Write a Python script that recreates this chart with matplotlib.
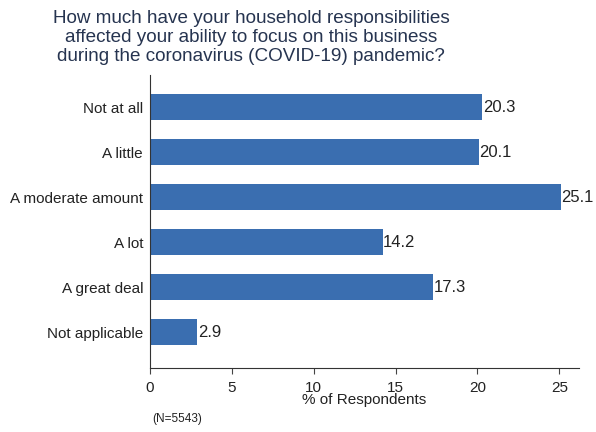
import matplotlib
matplotlib.use("Agg")
import matplotlib.pyplot as plt

# survey answers, top to bottom
categories = ["Not at all", "A little", "A moderate amount", "A lot",
              "A great deal", "Not applicable"]
percents = [20.3, 20.1, 25.1, 14.2, 17.3, 2.9]
ticks = [0, 5, 10, 15, 20, 25]

plt.rcParams['font.family'] = ['Liberation Sans', 'DejaVu Sans']

fig = plt.figure(figsize=(5.96, 4.32), dpi=100)
ax = fig.add_axes([0.2517, 0.148, 0.7198, 0.678])

ypos = list(range(len(categories)))
ax.barh(ypos, percents, height=0.58, color='#3a6eb0')
for y, v in zip(ypos, percents):
    ax.text(v + 0.02, y, f"{v:.1f}", va='center', ha='left', fontsize=12,
            color='#222222')

ax.set_yticks(ypos)
ax.set_yticklabels(categories, fontsize=11, color='#222222')
ax.set_ylim(5.8, -0.71)
ax.set_xlim(0, 26.2)
ax.set_xticks(ticks)
ax.set_xticklabels([str(t) for t in ticks], fontsize=11, color='#222222')
ax.tick_params(axis='y', length=0, pad=5)
ax.tick_params(axis='x', length=4, width=0.8, color='#444444', pad=5)

for s in ['top', 'right']:
    ax.spines[s].set_visible(False)
for s in ['left', 'bottom']:
    ax.spines[s].set_color('#333333')
    ax.spines[s].set_linewidth(0.8)

ax.set_xlabel("% of Respondents", fontsize=11, color='#222222', labelpad=-1)

fig.text(0.421, 0.978, "How much have your household responsibilities\n"
         "affected your ability to focus on this business\n"
         "during the coronavirus (COVID-19) pandemic?",
         ha='center', va='top', fontsize=13.6, color='#263450', linespacing=1.17)
fig.text(0.256, 0.023, "(N=5543)", fontsize=8.5, color='#222222')

fig.savefig("out.png", dpi=100)
